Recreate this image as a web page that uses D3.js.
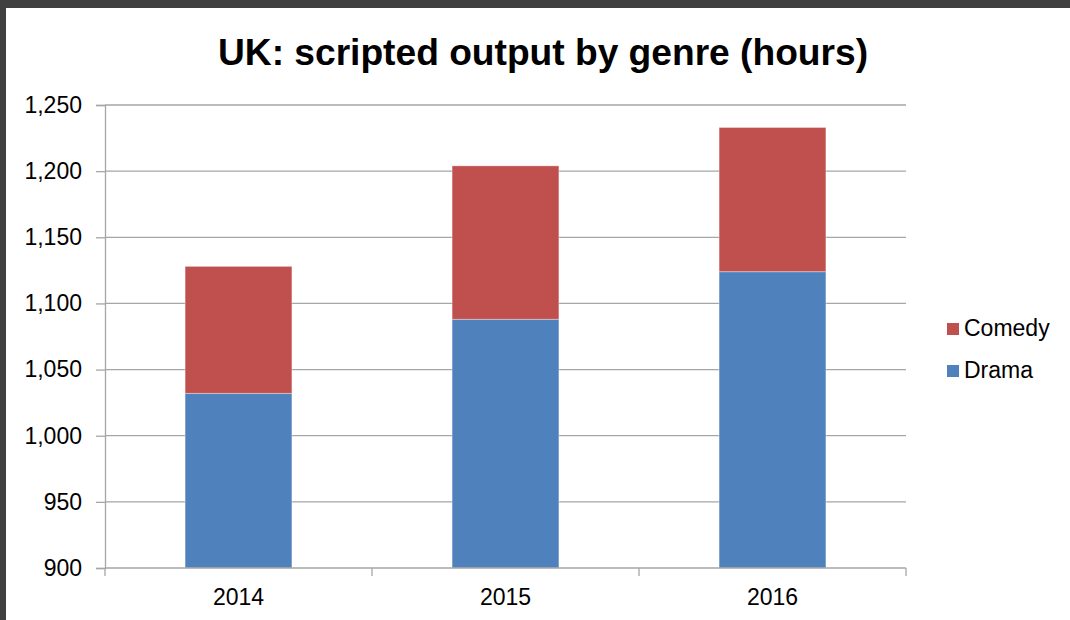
<!DOCTYPE html>
<html>
<head>
<meta charset="utf-8">
<script src="https://cdn.jsdelivr.net/npm/d3@7"></script>
<style>
  html, body { margin: 0; padding: 0; background: #404040; }
  svg { display: block; }
  text { font-family: "Liberation Sans", Arial, sans-serif; fill: #000; }
</style>
</head>
<body>
<svg class="chart" width="1070" height="620"></svg>
<script>
// data
const years = ["2014", "2015", "2016"];
const drama = [1032, 1088, 1124];
const comedy = [96, 116, 109];
const genres = ["Drama", "Comedy"];
const colors = ["#4F81BD", "#C0504D"];
const yTicks = [900, 950, 1000, 1050, 1100, 1150, 1200, 1250];

const plot = {left: 105, right: 906, top: 105, bottom: 568};

let svg = d3.select("svg.chart");

// white page inside the dark frame
svg.append("rect")
  .attr("x", 6).attr("y", 8)
  .attr("width", 1064).attr("height", 612)
  .attr("fill", "#fff");

// title
svg.append("text")
  .attr("x", 543).attr("y", 65)
  .attr("text-anchor", "middle")
  .attr("font-size", 36)
  .attr("font-weight", "bold")
  .attr("textLength", 650)
  .attr("lengthAdjust", "spacingAndGlyphs")
  .text("UK: scripted output by genre (hours)");

// scales
let x = d3.scaleBand()
  .domain(years)
  .range([plot.left, plot.right])
  .paddingInner(0.6)
  .paddingOuter(0.3);

let y = d3.scaleLinear()
  .domain([900, 1250])
  .range([plot.bottom, plot.top]);

// gridlines
svg.append("g")
  .selectAll("line")
  .data(yTicks.slice(1))
  .enter()
  .append("line")
    .attr("x1", plot.left).attr("x2", plot.right)
    .attr("y1", d => y(d)).attr("y2", d => y(d))
    .attr("stroke", "#a6a6a6")
    .attr("stroke-width", 1.3);

// stacked bars
let table = years.map((yr, i) => ({year: yr, Drama: drama[i], Comedy: comedy[i]}));
let series = d3.stack().keys(genres)(table);

svg.append("g")
  .selectAll("g")
  .data(series)
  .enter()
  .append("g")
    .attr("fill", (d, i) => colors[i])
  .selectAll("rect")
  .data(d => d)
  .enter()
  .append("rect")
    .attr("x", d => x(d.data.year))
    .attr("width", x.bandwidth())
    .attr("y", d => y(d[1]))
    .attr("height", d => y(Math.max(d[0], 900)) - y(d[1]))
    .attr("stroke", "#fff")
    .attr("stroke-opacity", 0.35)
    .attr("stroke-width", 1);

// y axis
let yAxis = d3.axisLeft(y)
  .tickValues(yTicks)
  .tickSize(9)
  .tickPadding(14)
  .tickFormat(d3.format(","));

let gy = svg.append("g")
  .attr("transform", `translate(${plot.left},0)`)
  .call(yAxis);
gy.select(".domain").attr("stroke", "#a6a6a6").attr("stroke-width", 1.3);
gy.selectAll(".tick line").attr("stroke", "#a6a6a6").attr("stroke-width", 1.3);
gy.selectAll(".tick text")
  .attr("font-size", 23)
  .attr("font-family", "Liberation Sans, Arial, sans-serif")
  .attr("fill", "#000");

// x axis with ticks at category boundaries
let gx = svg.append("g")
  .attr("transform", `translate(0,${plot.bottom})`);
gx.append("line")
  .attr("x1", plot.left).attr("x2", plot.right)
  .attr("stroke", "#a6a6a6").attr("stroke-width", 1.3);
let step = x.step();
let bounds = d3.range(years.length + 1).map(i => plot.left + i * step);
gx.selectAll("line.tick")
  .data(bounds)
  .enter()
  .append("line")
    .attr("class", "tick")
    .attr("x1", d => d).attr("x2", d => d)
    .attr("y1", 0).attr("y2", 8)
    .attr("stroke", "#a6a6a6").attr("stroke-width", 1.3);
gx.selectAll("text")
  .data(years)
  .enter()
  .append("text")
    .attr("x", d => x(d) + x.bandwidth() / 2)
    .attr("y", 37)
    .attr("text-anchor", "middle")
    .attr("font-size", 23)
    .text(d => d);

// legend
let legend = svg.append("g")
  .selectAll("g")
  .data(genres.slice().reverse())
  .enter()
  .append("g")
    .attr("transform", (d, i) => `translate(947,${323 + i * 42})`);
legend.append("rect")
  .attr("width", 12).attr("height", 12)
  .attr("fill", d => colors[genres.indexOf(d)]);
legend.append("text")
  .attr("x", 17).attr("y", 13)
  .attr("font-size", 23)
  .text(d => d);
</script>
</body>
</html>
